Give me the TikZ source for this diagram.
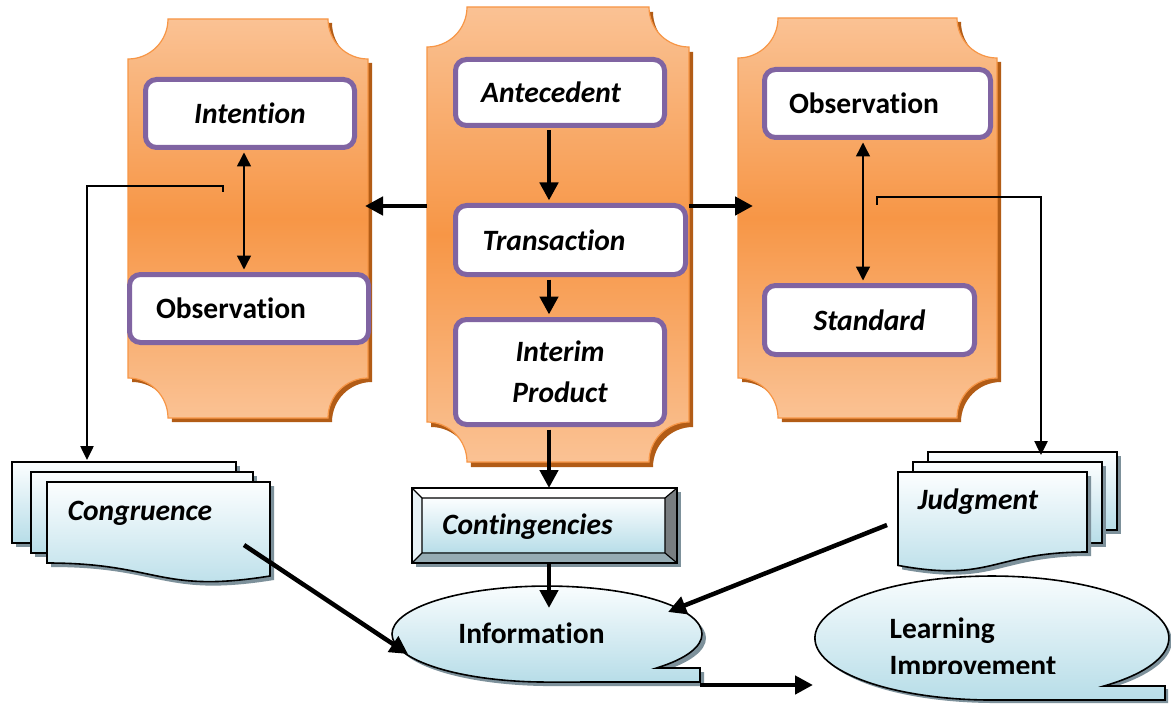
\documentclass[tikz,border=0pt]{standalone}
\usepackage{fontspec}
\setmainfont{Carlito}[Ligatures=NoCommon]
\usetikzlibrary{arrows.meta}
\definecolor{pborder}{RGB}{247,150,70}
\definecolor{plight}{RGB}{250,194,148}
\definecolor{pmid}{RGB}{247,150,70}
\definecolor{pshadow}{RGB}{178,92,22}
\definecolor{pur}{RGB}{128,100,162}
\definecolor{bluebot}{RGB}{183,221,232}
\definecolor{bluetop}{RGB}{252,254,255}
\definecolor{docshadow}{RGB}{125,145,155}
\definecolor{bevdark}{RGB}{120,125,128}
\definecolor{bevmid}{RGB}{150,172,180}
\definecolor{bevlight}{RGB}{232,242,246}
\newcommand\panelshape[5]{\path[#1] (#2+40,#3) -- (#4-40,#3) arc[start angle=180,end angle=90,radius=40] -- (#4,#5-40) arc[start angle=270,end angle=180,radius=40] -- (#2+40,#5) arc[start angle=0,end angle=-90,radius=40] -- (#2,#3+40) arc[start angle=90,end angle=0,radius=40] -- cycle;}
\begin{document}
\begin{tikzpicture}[x=1pt,y=-1pt,
  pbox/.style={draw=pur, line width=5pt, fill=white, rounded corners=11pt, inner sep=0pt, align=center},
  bi/.style={font=\fontsize{29.5}{41}\selectfont\bfseries\itshape},
  bu/.style={font=\fontsize{29.5}{37}\selectfont\bfseries},
  panelfill/.style={top color=plight,bottom color=plight,middle color=pmid,draw=pborder,line width=1.2pt},
  docfill/.style={top color=bluetop,bottom color=bluebot,draw=black,line width=1.6pt},
  shadowdoc/.style={fill=docshadow,shift={(4,4)}},
  bigarrow/.style={line width=4.5pt,-{Triangle[length=18pt,width=18pt]}},
  dbl/.style={line width=1.5pt,{Triangle[length=14pt,width=14pt]}-{Triangle[length=14pt,width=14pt]},shorten <=2.5pt,shorten >=2.5pt},
  elbow/.style={line width=2.5pt,-{Triangle[length=14pt,width=13pt]}},
  ghost/.style={inner sep=0pt,outer sep=0pt}]
\useasboundingbox (0,0) rectangle (1171,706);
\fill[white] (0,0) rectangle (1171,706);
% ---------- orange panels ----------
\panelshape{fill=pshadow,shift={(4,4)}}{128}{19}{368}{418}
\panelshape{panelfill}{128}{19}{368}{418}
\panelshape{fill=pshadow,shift={(4,5)}}{427}{7}{689}{462}
\panelshape{panelfill}{427}{7}{689}{462}
\panelshape{fill=pshadow,shift={(4,4)}}{738}{18}{997}{418}
\panelshape{panelfill}{738}{18}{997}{418}
\node[ghost,minimum width=240pt,minimum height=399pt] (lpanel) at (248,218.5) {};
\node[ghost,minimum width=262pt,minimum height=455pt] (cpanel) at (558,234.5) {};
\node[ghost,minimum width=259pt,minimum height=400pt] (rpanel) at (867.5,218) {};
% ---------- purple boxes ----------
\node[pbox,bi,minimum width=209pt,minimum height=68pt] (intention) at (250,113.5) {Intention};
\node[pbox,bu,minimum width=239pt,minimum height=68pt] (lobs) at (249,308.5) {\hspace*{-36pt}Observation};
\node[pbox,bi,minimum width=209pt,minimum height=66pt] (ante) at (560,92.5) {\hspace*{-18pt}Antecedent};
\node[pbox,bi,minimum width=230pt,minimum height=69pt] (trans) at (570.5,240) {\hspace*{-33pt}Transaction};
\node[pbox,bi,minimum width=209pt,minimum height=105pt] (interim) at (560,372) {Interim\\Product};
\node[pbox,bu,minimum width=226pt,minimum height=68pt] (robs) at (877.5,103.5) {\hspace*{-27pt}Observation};
\node[pbox,bi,minimum width=210pt,minimum height=69pt] (standard) at (869.5,320) {Standard};
% ---------- Congruence document stack ----------
\fill[shadowdoc] (12,462) rectangle (236,543);
\path[docfill] (12,462) rectangle (236,543);
\fill[shadowdoc] (31,472) rectangle (253,553);
\path[docfill] (31,472) rectangle (253,553);
\fill[shadowdoc] (47,482) -- (270,482) -- (270,576) .. controls (158.5,594) and (158.5,563) .. (47,563) -- cycle;
\path[docfill] (47,482) -- (270,482) -- (270,576) .. controls (158.5,594) and (158.5,563) .. (47,563) -- cycle;
\node[bi] (cong) at (140,513) {Congruence};
% ---------- Judgment document stack ----------
\fill[shadowdoc] (928,452) rectangle (1117,530);
\path[docfill] (928,452) rectangle (1117,530);
\fill[shadowdoc] (913,462) rectangle (1102,543);
\path[docfill] (913,462) rectangle (1102,543);
\fill[shadowdoc] (898,472) -- (1087,472) -- (1087,552) .. controls (992.5,552) and (992.5,582.8) .. (898,565.4) -- cycle;
\path[docfill] (898,472) -- (1087,472) -- (1087,552) .. controls (992.5,552) and (992.5,582.8) .. (898,565.4) -- cycle;
\node[bi] (judg) at (978,502) {Judgment};
% ---------- Contingencies ----------
\fill[docshadow] (416,492) rectangle (681,567);
\node[ghost,minimum width=265pt,minimum height=75pt] (contbox) at (544.5,525.5) {};
\fill[white] (412,488) -- (677,488) -- (665,498) -- (422,498) -- cycle;
\fill[bevlight] (412,488) -- (422,498) -- (422,553) -- (412,563) -- cycle;
\fill[bevdark] (677,488) -- (677,563) -- (665,553) -- (665,498) -- cycle;
\fill[bevmid] (412,563) -- (677,563) -- (665,553) -- (422,553) -- cycle;
\path[top color=bluetop,bottom color=bluebot] (422,498) rectangle (665,553);
\draw[line width=1.2pt] (422,498) rectangle (665,553)
  (412,488) -- (422,498) (677,488) -- (665,498) (677,563) -- (665,553) (412,563) -- (422,553);
\draw[line width=2pt] (412,488) rectangle (677,563);
\node[bi] (cont) at (527.5,527) {Contingencies};
% ---------- Information ----------
\fill[shadowdoc] (656.6,668) arc[start angle=45,end angle=-270,x radius=155,y radius=48] -- (700,682) -- (700,668) -- cycle;
\path[docfill] (656.6,668) arc[start angle=45,end angle=-270,x radius=155,y radius=48] -- (700,682) -- (700,668) -- cycle;
\node[bu] (info) at (531.5,633) {Information};
% ---------- Learning Improvement ----------
\fill[docshadow,shift={(3,3)}] (1104,686) arc[start angle=50.7,end angle=-270,x radius=177,y radius=62] -- (1165,700) -- (1165,686) -- cycle;
\path[docfill] (1104,686) arc[start angle=50.7,end angle=-270,x radius=177,y radius=62] -- (1165,700) -- (1165,686) -- cycle;
\begin{scope}
\clip (820,590) rectangle (1120,673);
\node[bu,align=left,anchor=west] (learn) at (886,649) {Learning\\Improvement};
\end{scope}
% ---------- connectors ----------
\draw[dbl] (intention.south -| 244,0) -- (lobs.north -| 244,0);
\draw[dbl] (robs.south -| 863,0) -- (standard.north -| 863,0);
\draw[bigarrow,shorten <=2.5pt,shorten >=2.5pt] (ante.south -| 549,0) -- (trans.north -| 549,0);
\draw[bigarrow,shorten <=2.5pt,shorten >=2.5pt] (trans.south -| 549,0) -- (interim.north -| 549,0);
\draw[bigarrow,shorten <=2.5pt] (interim.south -| 549,0) -- (contbox.north -| 549,0);
\coordinate (infotop) at (549,608);
\draw[bigarrow] (contbox.south -| 549,0) -- (infotop);
\draw[bigarrow,shorten >=-3pt] (cpanel.west |- 0,206) -- (lpanel.east |- 0,206);
\coordinate (rin) at (753,206);
\draw[bigarrow] (cpanel.east |- 0,206) -- (rin);
\coordinate (ltick) at (223,192);
\coordinate (congtop) at (87,460);
\draw[elbow] (ltick) -- ++(0,-6) -| (congtop);
\coordinate (rtick) at (877,205);
\coordinate (judgtop) at (1041,455);
\draw[elbow] (rtick) -- ++(0,-8) -| (judgtop);
\coordinate (congout) at (244,545);
\coordinate (infoleft) at (408,654);
\draw[bigarrow] (congout) -- (infoleft);
\coordinate (judgout) at (887,525);
\coordinate (inforight) at (668,612);
\draw[bigarrow] (judgout) -- (inforight);
\coordinate (infotail) at (700,685);
\coordinate (learnin) at (813,685);
\draw[bigarrow] (infotail) -- (learnin);
\end{tikzpicture}
\end{document}
